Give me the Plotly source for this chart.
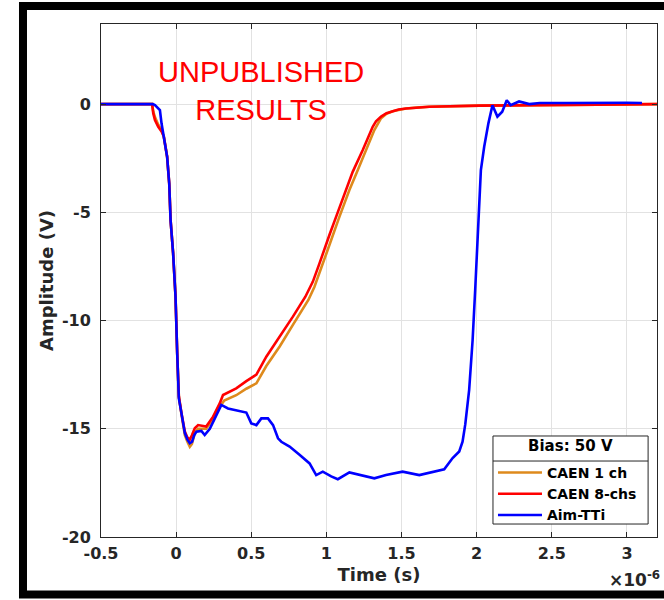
import plotly.graph_objects as go

# ---- data (time in microseconds, amplitude in volts) ----
t_caen1 = [-0.50, -0.30, -0.16, -0.152, -0.141, -0.119, -0.097, -0.082, -0.07, -0.06, -0.046, -0.037,
           -0.02, -0.004, 0.007, 0.018, 0.036, 0.058, 0.075, 0.091, 0.105, 0.124, 0.146, 0.20, 0.246,
           0.29, 0.32, 0.40, 0.467, 0.534, 0.60, 0.689, 0.777, 0.84, 0.88, 0.92, 0.954, 1.00, 1.087,
           1.153, 1.209, 1.275, 1.319, 1.364, 1.40, 1.44, 1.53, 1.618, 1.685, 2.02, 2.50, 3.20]
v_caen1 = [0.0, 0.02, 0.0, -0.35, -0.6, -0.95, -1.2, -1.5, -2.0, -2.43, -3.66, -5.36,
           -6.9, -8.9, -11.5, -13.5, -14.35, -15.3, -15.6, -15.83, -15.7, -15.2, -15.0, -15.0, -14.55,
           -14.0, -13.7, -13.45, -13.15, -12.9, -12.1, -11.2, -10.2, -9.5, -9.05, -8.45, -7.82, -6.9, -5.2,
           -3.97, -3.05, -1.97, -1.2, -0.65, -0.45, -0.33, -0.2, -0.15, -0.12, -0.07, -0.03, 0.0]

t_caen8 = [-0.50, -0.30, -0.16, -0.152, -0.141, -0.119, -0.097, -0.082, -0.07, -0.06, -0.046, -0.037,
           -0.02, -0.004, 0.007, 0.018, 0.036, 0.058, 0.075, 0.091, 0.105, 0.124, 0.146, 0.20, 0.246,
           0.29, 0.312, 0.40, 0.467, 0.534, 0.60, 0.689, 0.777, 0.86, 0.91, 0.954, 0.976, 1.02, 1.065,
           1.12, 1.175, 1.242, 1.28, 1.308, 1.33, 1.364, 1.40, 1.44, 1.48, 1.53, 1.618, 1.685, 2.02,
           2.50, 3.20]
v_caen8 = [0.0, 0.02, 0.0, -0.43, -0.74, -1.05, -1.27, -1.5, -2.0, -2.43, -3.66, -5.36,
           -6.9, -8.9, -11.5, -13.5, -14.3, -15.13, -15.4, -15.5, -15.3, -14.98, -14.83, -14.9, -14.44,
           -13.83, -13.44, -13.13, -12.8, -12.5, -11.67, -10.75, -9.82, -8.9, -8.2, -7.36, -6.9, -6.05, -5.2,
           -4.13, -3.13, -2.12, -1.5, -1.05, -0.8, -0.58, -0.42, -0.32, -0.25, -0.2, -0.15, -0.12, -0.07,
           -0.03, 0.0]

t_aim = [-0.50, -0.30, -0.155, -0.141, -0.119, -0.108, -0.097, -0.08, -0.06, -0.046, -0.037, -0.02,
         -0.004, 0.007, 0.013, 0.018, 0.036, 0.058, 0.075, 0.091, 0.106, 0.12, 0.135, 0.168, 0.19,
         0.224, 0.268, 0.301, 0.345, 0.423, 0.467, 0.50, 0.534, 0.567, 0.611, 0.645, 0.678, 0.70,
         0.755, 0.821, 0.888, 0.932, 0.976, 1.032, 1.076, 1.153, 1.22, 1.319, 1.397, 1.507, 1.618,
         1.707, 1.784, 1.84, 1.884, 1.906, 1.924, 1.95, 1.973, 1.99, 2.005, 2.017, 2.028, 2.05,
         2.078, 2.105, 2.138, 2.17, 2.20, 2.226, 2.282, 2.35, 2.42, 2.60, 2.80, 3.00, 3.10]
v_aim = [0.0, 0.0, 0.0, -0.05, -0.2, -0.28, -0.9, -1.55, -2.43, -3.66, -5.36, -6.9,
         -8.9, -11.5, -13.2, -13.6, -14.3, -15.2, -15.5, -15.67, -15.6, -15.3, -15.13, -15.1, -15.29,
         -15.0, -14.37, -13.9, -14.06, -14.18, -14.25, -14.75, -14.83, -14.52, -14.52, -14.83, -15.44, -15.6,
         -15.82, -16.2, -16.6, -17.14, -16.98, -17.2, -17.33, -17.02, -17.14, -17.29, -17.14, -16.98, -17.14,
         -16.98, -16.87, -16.35, -16.05, -15.6, -14.8, -13.2, -10.9, -8.6, -6.28, -4.43, -3.05, -1.97,
         -0.89, -0.05, -0.58, -0.35, 0.18, -0.05, 0.12, 0.0, 0.05, 0.05, 0.07, 0.06, 0.05]

series_names = ["CAEN 1 ch", "CAEN 8-chs", "Aim-TTi"]
series_colors = ["#DE8A1C", "#FF0000", "#0000FF"]
legend_title = "Bias: 50 V"

x_tickvals = [-0.5, 0, 0.5, 1, 1.5, 2, 2.5, 3]
x_ticktext = ["-0.5", "0", "0.5", "1", "1.5", "2", "2.5", "3"]
y_tickvals = [-20, -15, -10, -5, 0]
y_ticktext = ["-20", "-15", "-10", "-5", "0"]

FONT = "DejaVu Sans"
INK = "#262626"

fig = go.Figure()
for t, v, name, col in zip([t_caen1, t_caen8, t_aim], [v_caen1, v_caen8, v_aim],
                           series_names, series_colors):
    fig.add_trace(go.Scatter(x=t, y=v, mode="lines", name=name,
                             line=dict(color=col, width=2.6)))

axis_common = dict(
    showgrid=True, gridcolor="#E2E2E2", gridwidth=1, zeroline=False,
    showline=True, linecolor=INK, linewidth=1, mirror="ticks",
    ticks="inside", ticklen=5, tickcolor=INK, tickwidth=1,
    tickfont=dict(family=FONT, size=16, color=INK, weight="bold"),
)

fig.update_layout(
    width=664, height=600,
    margin=dict(l=101, r=7, t=24, b=63),
    paper_bgcolor="white", plot_bgcolor="white",
    xaxis=dict(range=[-0.5, 3.2], tickvals=x_tickvals, ticktext=x_ticktext,
               title=dict(text="Time (s)", standoff=6,
                          font=dict(family=FONT, size=18, color=INK, weight="bold")),
               ticklabelstandoff=2, **axis_common),
    yaxis=dict(range=[-20, 3.7], tickvals=y_tickvals, ticktext=y_ticktext,
               title=dict(text="Amplitude (V)", standoff=3,
                          font=dict(family=FONT, size=18, color=INK, weight="bold")),
               ticklabelstandoff=6, **axis_common),
    legend=dict(x=0.705, xanchor="left", y=0.156, yanchor="top",
                bgcolor="rgba(0,0,0,0)", borderwidth=0,
                font=dict(family=FONT, size=14, color="black", weight="bold"),
                itemwidth=44, tracegroupgap=0),
    showlegend=True,
)

# outer black frame
fig.add_shape(type="rect", xref="paper", yref="paper",
              x0=-0.1403, x1=1.045, y0=-0.1121, y1=1.0351,
              line=dict(color="black", width=8), fillcolor="rgba(0,0,0,0)", layer="above")
# legend box (with title row) behind the legend entries
fig.add_shape(type="rect", xref="paper", yref="paper",
              x0=0.705, x1=0.984, y0=0.0253, y1=0.1969,
              line=dict(color=INK, width=1), fillcolor="white", layer="above")
fig.add_shape(type="line", xref="paper", yref="paper",
              x0=0.705, x1=0.984, y0=0.1481, y1=0.1481,
              line=dict(color=INK, width=1), layer="above")
fig.add_annotation(text=legend_title, xref="paper", yref="paper",
                   x=0.8444, y=0.1774, xanchor="center", yanchor="middle", showarrow=False,
                   font=dict(family=FONT, size=15, color="black", weight="bold"))

fig.add_annotation(text="UNPUBLISHED<br>RESULTS", xref="paper", yref="paper",
                   x=0.2878, y=0.8694, xanchor="center", yanchor="middle", showarrow=False,
                   font=dict(family="Liberation Sans", size=29, color="red"))
fig.add_annotation(text="×10<sup>-6</sup>", xref="paper", yref="paper",
                   x=1.009, y=-0.082, xanchor="right", yanchor="middle", showarrow=False,
                   font=dict(family=FONT, size=17, color=INK, weight="bold"))

fig.write_html("out.html", config={"displayModeBar": False},
               post_script="document.body.style.margin='0';document.body.style.overflow='hidden';")
